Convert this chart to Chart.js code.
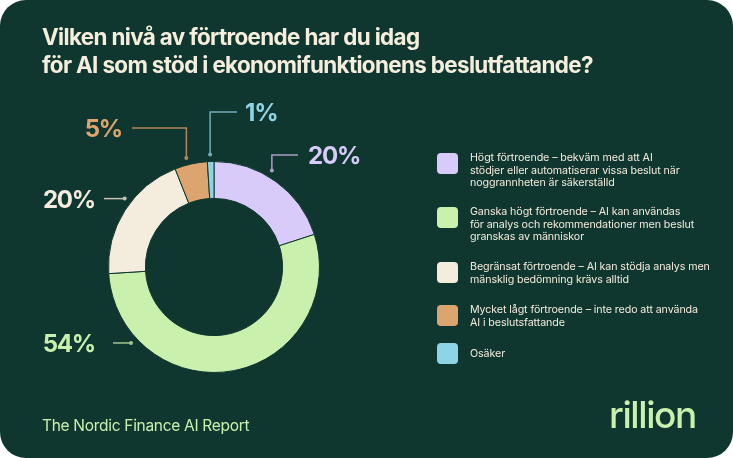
<!DOCTYPE html>
<html>
<head>
<meta charset="utf-8">
<script src="https://cdn.jsdelivr.net/npm/chart.js@4"></script>
<style>
  html, body { margin: 0; padding: 0; background: #ffffff; }
  #card {
    position: relative; width: 733px; height: 458px;
    background: #10372f; border-radius: 26px; overflow: hidden;
    font-family: Inter, "Noto Sans", sans-serif;
  }
  #chart { position: absolute; left: 0; top: 0; }
  #title {
    position: absolute; left: 42px; top: 23px; margin: 0;
    color: #f6eedd; font-size: 22.4px; font-weight: 700; line-height: 28px;
    letter-spacing: -0.64px;
  }
  #legend { position: absolute; left: 437px; top: 150px; }
  .row { position: absolute; left: 0; }
  .swatch { position: absolute; left: 0; width: 21px; height: 21px; border-radius: 4px; }
  .txt { position: absolute; left: 33px; color: #f3ebdc; font-size: 10.7px; line-height: 12.5px; white-space: nowrap; letter-spacing: -0.1px; }
  #footer { position: absolute; left: 42px; top: 416px; color: #c9f0ad; font-size: 15.5px; letter-spacing: -0.3px; }
  #logo { position: absolute; left: 609px; top: 392px; color: #c9f0ad; font-size: 37px; font-weight: 500; letter-spacing: -1.4px; }
</style>
</head>
<body>
<div id="card">
  <canvas id="chart" width="733" height="458"></canvas>
  <h1 id="title">Vilken nivå av förtroende har du idag<br>för AI som stöd i ekonomifunktionens beslutfattande?</h1>
  <div id="legend"></div>
  <div id="footer">The Nordic Finance AI Report</div>
  <div id="logo">rillion</div>
</div>
<script>
// data
const categories = [
  ['Högt förtroende – bekväm med att AI', 'stödjer eller automatiserar vissa beslut när', 'noggrannheten är säkerställd'],
  ['Ganska högt förtroende – AI kan användas', 'för analys och rekommendationer men beslut', 'granskas av människor'],
  ['Begränsat förtroende – AI kan stödja analys men', 'mänsklig bedömning krävs alltid'],
  ['Mycket lågt förtroende – inte redo att använda', 'AI i beslutsfattande'],
  ['Osäker']
];
const shares = [20, 54, 20, 5, 1];
const colors = ['#d8cbfa', '#c9f0ad', '#f4ecdd', '#dca46f', '#8ed4e7'];
const lineColors = ['#a99cc8', '#a4c48f', '#c8c1b4', '#b3865d', '#6fadbe'];

// where each callout sits: fraction along its arc, then the elbow route
const callouts = [
  { frac: 0.43, route: 'up', dy: -112, tx: 298, gap: 10, align: 'left' },
  { frac: 0.80, route: 'side', tx: 113, gap: 18, align: 'right' },
  { frac: 0.57, route: 'side', tx: 104, gap: 9, align: 'right' },
  { frac: 0.41, route: 'up', dy: -139, tx: 132, gap: 10, align: 'right' },
  { frac: 0.45, route: 'up', dy: -155, tx: 237, gap: 8, align: 'left' }
];

const calloutPlugin = {
  id: 'callouts',
  afterDatasetsDraw(chart) {
    const ctx = chart.ctx;
    const arcs = chart.getDatasetMeta(0).data;
    ctx.save();
    arcs.forEach((arc, i) => {
      const c = callouts[i];
      const a = arc.startAngle + (arc.endAngle - arc.startAngle) * c.frac;
      const r = arc.outerRadius + 7;
      const px = arc.x + Math.cos(a) * r;
      const py = arc.y + Math.sin(a) * r;
      ctx.strokeStyle = lineColors[i];
      ctx.fillStyle = lineColors[i];
      ctx.lineWidth = 1.5;
      ctx.beginPath();
      ctx.moveTo(px, py);
      let ly;
      if (c.route === 'up') {
        ly = arc.y + c.dy;
        ctx.lineTo(px, ly);
        ctx.lineTo(c.tx, ly);
      } else {
        ly = py;
        ctx.lineTo(c.tx, ly);
      }
      ctx.stroke();
      ctx.beginPath();
      ctx.arc(px, py, 2, 0, Math.PI * 2);
      ctx.fill();

      ctx.fillStyle = colors[i];
      ctx.font = '700 24px Inter, "Noto Sans", sans-serif';
      ctx.letterSpacing = '-1.2px';
      ctx.textBaseline = 'middle';
      ctx.textAlign = c.align;
      const tx = c.align === 'left' ? c.tx + c.gap : c.tx - c.gap;
      ctx.fillText(shares[i] + '%', tx, ly + 2);
    });
    ctx.restore();
  }
};

new Chart(document.getElementById('chart'), {
  type: 'doughnut',
  data: {
    labels: categories,
    datasets: [{
      data: shares,
      backgroundColor: colors,
      borderColor: '#10372f',
      borderWidth: 1
    }]
  },
  options: {
    responsive: false,
    animation: false,
    cutout: '65%',
    layout: { padding: { left: 108, right: 413, top: 161, bottom: 85 } },
    plugins: { legend: { display: false }, tooltip: { enabled: false } }
  },
  plugins: [calloutPlugin]
});

// legend built from the same arrays
const legendTops = [0, 54, 109, 152, 190];
const legend = document.getElementById('legend');
categories.forEach((lines, i) => {
  const row = document.createElement('div');
  row.className = 'row';
  row.style.top = legendTops[i] + 'px';
  const sw = document.createElement('div');
  sw.className = 'swatch';
  sw.style.background = colors[i];
  sw.style.top = '3px';
  const t = document.createElement('div');
  t.className = 'txt';
  t.style.top = (lines.length === 1 ? 8 : 2) + 'px';
  t.innerHTML = lines.join('<br>');
  row.appendChild(sw);
  row.appendChild(t);
  legend.appendChild(row);
});
</script>
</body>
</html>
